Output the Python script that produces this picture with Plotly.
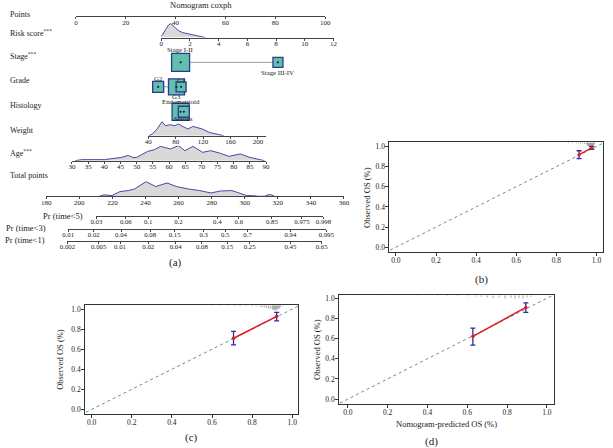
import plotly.graph_objects as go

W, H = 613, 448
def fx(px): return px / W
def fy(py): return 1 - py / H

# ---------------- data ----------------
points_ticks = [0, 20, 40, 60, 80, 100]
risk_ticks = [0, 2, 4, 6, 8, 10, 12]
weight_ticks = [40, 80, 120, 160, 200]
age_ticks = [30, 35, 40, 45, 50, 55, 60, 65, 70, 75, 80, 85, 90]
total_ticks = [180, 200, 220, 240, 260, 280, 300, 320, 340, 360]

risk_dens_x = [-0.15, 0.1, 0.3, 0.5, 0.65, 0.8, 1.0, 1.2, 1.5, 1.8, 2.1, 2.5, 2.9, 3.1]
risk_dens_h = [0, 3, 8, 12.5, 14, 12.5, 9.5, 7, 5, 4, 3, 2, 0.8, 0]

weight_dens_x = [41, 46, 53, 57, 60, 65, 72, 79, 84, 91, 98, 105, 112, 119, 129, 136, 143, 150]
weight_dens_h = [0, 1.7, 6.7, 11, 14, 10, 11, 10, 11.7, 9, 6.7, 9.3, 7.7, 6.7, 3.3, 2.3, 1, 0]

age_dens_x = [31, 33, 40, 45.4, 47.4, 48.9, 50, 53.4, 55.5, 57.4, 60.4, 62.9, 64.9, 67.4,
              70.4, 72.9, 75.9, 78.5, 82, 85, 88.5, 89.5]
age_dens_h = [0, 1, 1, 3.3, 5.3, 3, 3.3, 9.3, 11, 14.3, 11.7, 15, 10, 14.3,
              8.3, 10, 7.3, 4.3, 6.7, 3.3, 0.7, 0]

total_dens_x = [212, 214.9, 219.7, 224.6, 229.5, 233.4, 240.3, 246.2, 253, 258.9, 265.8, 272.7,
                279.5, 285.4, 292.3, 297.2, 301.1, 306, 308, 312, 314, 316, 318]
total_dens_h = [0, 1.4, 0.7, 4.7, 5.7, 7.3, 14.7, 9.7, 13.3, 9.7, 7.3, 5.7,
                3.3, 5.3, 5.7, 3, 0.7, 0.5, 0, 0, 1.5, 1.5, 0]

stage_levels = ["Stage I-II", "Stage III-IV"]
stage_points = [42.0, 81.05]
grade_levels = ["G2", "G3", "G1"]
grade_points = [33.0, 40.35, 42.2]
hist_levels = ["Endometrioid", "Serous"]
hist_points = [42.0, 43.3]

pr5_labels = ["0.03", "0.06", "0.1", "0.2", "0.4", "0.6", "0.85", "0.975", "0.998"]
pr5_points = [210.3, 228.1, 241.6, 259.9, 283.4, 296.4, 316.4, 334.6, 347.6]
pr3_labels = ["0.01", "0.02", "0.04", "0.08", "0.15", "0.3", "0.5", "0.7", "0.94", "0.995"]
pr3_points = [193.2, 208.7, 225.2, 242.8, 257.6, 275.2, 288.2, 301.7, 327.6, 349.4]
pr1_labels = ["0.002", "0.005", "0.01", "0.02", "0.04", "0.08", "0.15", "0.25", "0.45", "0.65"]
pr1_points = [192.8, 211.7, 224.6, 241.7, 258.2, 274.1, 289.4, 303.0, 327.6, 346.5]

cal_ticks = [0.0, 0.2, 0.4, 0.6, 0.8, 1.0]
cal_b_pred = [0.913, 0.976]; cal_b_obs = [0.918, 0.985]; cal_b_lo = [0.878, 0.972]; cal_b_hi = [0.957, 1.0]
cal_c_pred = [0.707, 0.922]; cal_c_obs = [0.709, 0.927]; cal_c_lo = [0.642, 0.881]; cal_c_hi = [0.778, 0.967]
cal_d_pred = [0.628, 0.894]; cal_d_obs = [0.622, 0.909]; cal_d_lo = [0.535, 0.859]; cal_d_hi = [0.704, 0.954]

rug_b_x = [0.76, 0.79, 0.82, 0.84, 0.86, 0.88, 0.90, 0.91, 0.92, 0.93, 0.94, 0.95, 0.955, 0.96,
           0.965, 0.97, 0.975, 0.98, 0.985, 0.99]
rug_b_len = [0.005, 0.005, 0.006, 0.006, 0.008, 0.008, 0.01, 0.01, 0.012, 0.012, 0.015, 0.02, 0.03,
             0.04, 0.05, 0.04, 0.05, 0.04, 0.03, 0.02]
rug_c_x = [0.55, 0.6, 0.64, 0.68, 0.71, 0.74, 0.77, 0.8, 0.82, 0.84, 0.85, 0.86, 0.87, 0.88, 0.89,
           0.9, 0.905, 0.91, 0.915, 0.92, 0.925, 0.93, 0.935, 0.94, 0.95]
rug_c_len = [0.005, 0.005, 0.006, 0.006, 0.008, 0.008, 0.01, 0.01, 0.012, 0.015, 0.02, 0.02, 0.025,
             0.03, 0.035, 0.04, 0.045, 0.05, 0.04, 0.05, 0.04, 0.035, 0.03, 0.02, 0.01]
rug_d_x = [0.05, 0.15, 0.25, 0.35, 0.45, 0.5, 0.55, 0.6, 0.64, 0.67, 0.7, 0.73, 0.76, 0.79, 0.82,
           0.84, 0.86, 0.88, 0.9, 0.92]
rug_d_len = [0.004, 0.004, 0.004, 0.004, 0.006, 0.006, 0.008, 0.01, 0.012, 0.015, 0.02, 0.025, 0.02,
             0.03, 0.025, 0.03, 0.025, 0.03, 0.02, 0.015]

# ---------------- style ----------------
FONT = "Liberation Serif"
TXT = "#222222"
AXC = "#444444"
DENS_LINE = "#4747a8"
DENS_FILL = "#d9d9d9"
BOX_FILL = "#62bfae"
BOX_EDGE = "#2c3a8e"

stage_size = [18, 10]
stage_shift = [13, -10]
grade_size = [11, 16, 10]
grade_shift = [8, -10, 6]
hist_size = [17, 11]
hist_shift = [10, -7]

fig = go.Figure()
layout = dict(width=W, height=H, margin=dict(l=0, r=0, t=0, b=0),
              paper_bgcolor="white", plot_bgcolor="rgba(0,0,0,0)",
              font=dict(family=FONT, color=TXT), showlegend=False)
annotations = []

def nomo_xaxis(domain_px, line_py, rng, tickvals, ticktext=None, fsize=7):
    d = dict(domain=[fx(domain_px[0]), fx(domain_px[1])], anchor="free", position=fy(line_py),
             range=rng, showline=True, linecolor=AXC, linewidth=0.8, ticks="outside",
             ticklen=2, tickwidth=0.8, tickcolor=AXC, tickvals=tickvals, showgrid=False,
             zeroline=False, tickfont=dict(size=fsize, family=FONT, color=TXT), fixedrange=True,
             ticklabelstandoff=-3)
    if ticktext is not None:
        d["ticktext"] = ticktext
    return d

def hidden_yaxis(top_py, bottom_py, rng):
    return dict(domain=[fy(bottom_py), fy(top_py)], range=rng, visible=False,
                anchor="free", position=0, fixedrange=True)

PTS_PX = (69.7, 325.7)
TOT_PX = (39.3, 345.0)
def tot_px(tp):
    return TOT_PX[0] + (tp - total_ticks[0]) * (TOT_PX[1] - TOT_PX[0]) / (total_ticks[-1] - total_ticks[0])

layout["xaxis"] = nomo_xaxis(PTS_PX, 15.3, [points_ticks[0], points_ticks[-1]], points_ticks)
layout["xaxis2"] = nomo_xaxis((157.3, 334.3), 36.7, [risk_ticks[0], risk_ticks[-1]], risk_ticks)
layout["xaxis3"] = nomo_xaxis((144.0, 265.0), 135.0, [40, 40 + (265.0 - 144.0) / 0.704], weight_ticks)
layout["xaxis4"] = nomo_xaxis((65.7, 265.0), 160.0, [age_ticks[0], age_ticks[-1]], age_ticks)
layout["xaxis5"] = nomo_xaxis(TOT_PX, 195.7, [total_ticks[0], total_ticks[-1]], total_ticks)
layout["xaxis6"] = nomo_xaxis((tot_px(pr5_points[0]), tot_px(pr5_points[-1])), 215.7,
                              [pr5_points[0], pr5_points[-1]], pr5_points, pr5_labels, 6.8)
layout["xaxis7"] = nomo_xaxis((tot_px(pr3_points[0]), tot_px(pr3_points[-1])), 228.3,
                              [pr3_points[0], pr3_points[-1]], pr3_points, pr3_labels, 6.8)
layout["xaxis8"] = nomo_xaxis((tot_px(pr1_points[0]), tot_px(pr1_points[-1])), 240.7,
                              [pr1_points[0], pr1_points[-1]], pr1_points, pr1_labels, 6.8)

layout["yaxis"] = hidden_yaxis(51.5, 71.5, [-1, 1])      # stage row
layout["yaxis2"] = hidden_yaxis(21.7, 36.7, [0, 15])     # risk density
layout["yaxis3"] = hidden_yaxis(120.0, 135.0, [0, 15])   # weight density
layout["yaxis4"] = hidden_yaxis(145.0, 160.0, [0, 15])   # age density
layout["yaxis5"] = hidden_yaxis(180.7, 195.7, [0, 15])   # total density
layout["yaxis6"] = hidden_yaxis(76.0, 96.0, [-1, 1])     # grade row
layout["yaxis7"] = hidden_yaxis(101.0, 121.0, [-1, 1])   # histology row
layout["yaxis8"] = hidden_yaxis(250.0, 255.0, [-1, 1])   # dummy for Pr axes

for xs, hs, xa, ya in [(risk_dens_x, risk_dens_h, "x2", "y2"),
                       (weight_dens_x, weight_dens_h, "x3", "y3"),
                       (age_dens_x, age_dens_h, "x4", "y4"),
                       (total_dens_x, total_dens_h, "x5", "y5")]:
    fig.add_trace(go.Scatter(x=xs, y=hs, xaxis=xa, yaxis=ya, mode="lines", fill="tozeroy",
                             fillcolor=DENS_FILL, line=dict(color=DENS_LINE, width=1),
                             hoverinfo="skip"))

def cat_row(levels, pts, sizes, shifts, ya, yref):
    fig.add_trace(go.Scatter(x=[min(pts), max(pts)], y=[0, 0], xaxis="x", yaxis=ya, mode="lines",
                             line=dict(color="#a0a0a0", width=1), hoverinfo="skip"))
    order = sorted(range(len(levels)), key=lambda i: -sizes[i])
    for i in order:
        fig.add_trace(go.Scatter(x=[pts[i]], y=[0], xaxis="x", yaxis=ya, mode="markers",
                                 marker=dict(symbol="square", size=sizes[i], color=BOX_FILL,
                                             line=dict(color=BOX_EDGE, width=1.3)),
                                 cliponaxis=False, hoverinfo="skip"))
    fig.add_trace(go.Scatter(x=pts, y=[0] * len(pts), xaxis="x", yaxis=ya, mode="markers",
                             marker=dict(size=2.2, color="#1a1a40"), cliponaxis=False,
                             hoverinfo="skip"))
    for lv, p, s in zip(levels, pts, shifts):
        annotations.append(dict(x=p, y=0, xref="x", yref=yref, text=lv, showarrow=False,
                                yshift=s, font=dict(size=6.8, family=FONT, color=TXT)))

cat_row(stage_levels, stage_points, stage_size, stage_shift, "y", "y")
cat_row(grade_levels, grade_points, grade_size, grade_shift, "y6", "y6")
cat_row(hist_levels, hist_points, hist_size, hist_shift, "y7", "y7")

for pp, xa in [(pr5_points, "x6"), (pr3_points, "x7"), (pr1_points, "x8")]:
    fig.add_trace(go.Scatter(x=[pp[0], pp[-1]], y=[0, 0], xaxis=xa, yaxis="y8", mode="markers",
                             marker=dict(opacity=0), hoverinfo="skip"))

left_labels = [("Points", 14), ("Risk score<sup>***</sup>", 32), ("Stage<sup>***</sup>", 55),
               ("Grade", 80), ("Histology", 105), ("Weight", 129.3), ("Age<sup>***</sup>", 152.7),
               ("Total points", 175)]
for t, py in left_labels:
    annotations.append(dict(x=0, y=fy(py), xref="paper", yref="paper", text=t,
                            showarrow=False, xanchor="left", yanchor="middle",
                            font=dict(size=8, family=FONT, color=TXT)))
for t, px, py in [("Pr (time<5)", 79, 215), ("Pr (time<3)", 41, 227.5), ("Pr (time<1)", 40, 240)]:
    annotations.append(dict(x=fx(px), y=fy(py), xref="paper", yref="paper", text=t,
                            showarrow=False, xanchor="right", yanchor="middle",
                            font=dict(size=8.5, family=FONT, color=TXT)))
annotations.append(dict(x=fx(198), y=fy(4.5), xref="paper", yref="paper", text="Nomogram coxph",
                        showarrow=False, xanchor="center", yanchor="middle",
                        font=dict(size=8.5, family=FONT, color=TXT)))

panels = [
    dict(n=9, pred=cal_b_pred, obs=cal_b_obs, lo=cal_b_lo, hi=cal_b_hi, rx=rug_b_x, rl=rug_b_len,
         xd=(391.7, 610.7), yd=(141.7, 252.0), xr=[-0.032, 1.031], yr=[-0.052, 1.040],
         ytitle=(368, 197), lab="(b)", labpos=(486, 279), xtitle=None),
    dict(n=10, pred=cal_c_pred, obs=cal_c_obs, lo=cal_c_lo, hi=cal_c_hi, rx=rug_c_x, rl=rug_c_len,
         xd=(79.3, 297.7), yd=(305.0, 414.3), xr=[-0.032, 1.028], yr=[-0.050, 1.037],
         ytitle=(54, 359), lab="(c)", labpos=(188, 437), xtitle=None),
    dict(n=11, pred=cal_d_pred, obs=cal_d_obs, lo=cal_d_lo, hi=cal_d_hi, rx=rug_d_x, rl=rug_d_len,
         xd=(340.0, 560.3), yd=(295.0, 404.3), xr=[-0.044, 1.034], yr=[-0.053, 1.029],
         ytitle=(318, 349), lab="(d)", labpos=(435, 441), xtitle=("Nomogram-predicted OS (%)", 450, 424)),
]

for p in panels:
    n = p["n"]
    xa, ya = f"x{n}", f"y{n}"
    common = dict(showline=True, mirror=True, linecolor="#333333", linewidth=1, ticks="outside",
                  ticklen=3, tickwidth=0.8, tickcolor="#333333", tickvals=cal_ticks,
                  tickformat=".1f", showgrid=False, zeroline=False, fixedrange=True,
                  tickfont=dict(size=7.5, family=FONT, color=TXT))
    layout[f"xaxis{n}"] = dict(domain=[fx(p["xd"][0]), fx(p["xd"][1])], range=p["xr"], anchor=ya,
                               ticklabelstandoff=-2, **common)
    layout[f"yaxis{n}"] = dict(domain=[fy(p["yd"][1]), fy(p["yd"][0])], range=p["yr"], anchor=xa,
                               ticklabelstandoff=-1, **common)

    fig.add_trace(go.Scatter(x=[p["xr"][0] - 0.05, p["xr"][1] + 0.05], y=[p["xr"][0] - 0.05, p["xr"][1] + 0.05],
                             xaxis=xa, yaxis=ya, mode="lines",
                             line=dict(color="#5d8f9a", width=1, dash="dot"), hoverinfo="skip"))
    rx, ry = [], []
    top = p["yr"][1]
    for v, l in zip(p["rx"], p["rl"]):
        rx += [v, v, None]
        ry += [top, top - l, None]
    fig.add_trace(go.Scatter(x=rx, y=ry, xaxis=xa, yaxis=ya, mode="lines",
                             line=dict(color="#8a8a8a", width=0.8), hoverinfo="skip"))
    fig.add_trace(go.Scatter(x=p["pred"], y=p["obs"], xaxis=xa, yaxis=ya, mode="lines",
                             line=dict(color="#e31a1c", width=1.5), hoverinfo="skip"))
    fig.add_trace(go.Scatter(x=p["pred"], y=p["obs"], xaxis=xa, yaxis=ya, mode="markers",
                             marker=dict(color="#e31a1c", size=3.5),
                             error_y=dict(type="data", symmetric=False,
                                          array=[h - o for h, o in zip(p["hi"], p["obs"])],
                                          arrayminus=[o - l for o, l in zip(p["obs"], p["lo"])],
                                          color="#2b2ba0", thickness=1.3, width=2.5),
                             cliponaxis=False, hoverinfo="skip"))
    annotations.append(dict(x=fx(p["ytitle"][0]), y=fy(p["ytitle"][1]), xref="paper", yref="paper",
                            text="Observed OS (%)", textangle=-90, showarrow=False,
                            xanchor="center", yanchor="middle",
                            font=dict(size=8.5, family=FONT, color=TXT)))
    annotations.append(dict(x=fx(p["labpos"][0]), y=fy(p["labpos"][1]), xref="paper", yref="paper",
                            text=p["lab"], showarrow=False, xanchor="center", yanchor="middle",
                            font=dict(size=11, family=FONT, color=TXT)))
    if p["xtitle"]:
        t, px, py = p["xtitle"]
        annotations.append(dict(x=fx(px), y=fy(py), xref="paper", yref="paper", text=t,
                                showarrow=False, xanchor="center", yanchor="middle",
                                font=dict(size=8.5, family=FONT, color=TXT)))

annotations.append(dict(x=fx(172), y=fy(262), xref="paper", yref="paper", text="(a)",
                        showarrow=False, xanchor="center", yanchor="middle",
                        font=dict(size=11, family=FONT, color=TXT)))

layout["annotations"] = annotations
fig.update_layout(**layout)
fig.write_html("out.html", config={"displayModeBar": False},
               post_script="document.body.style.margin='0';document.body.style.overflow='hidden';")
